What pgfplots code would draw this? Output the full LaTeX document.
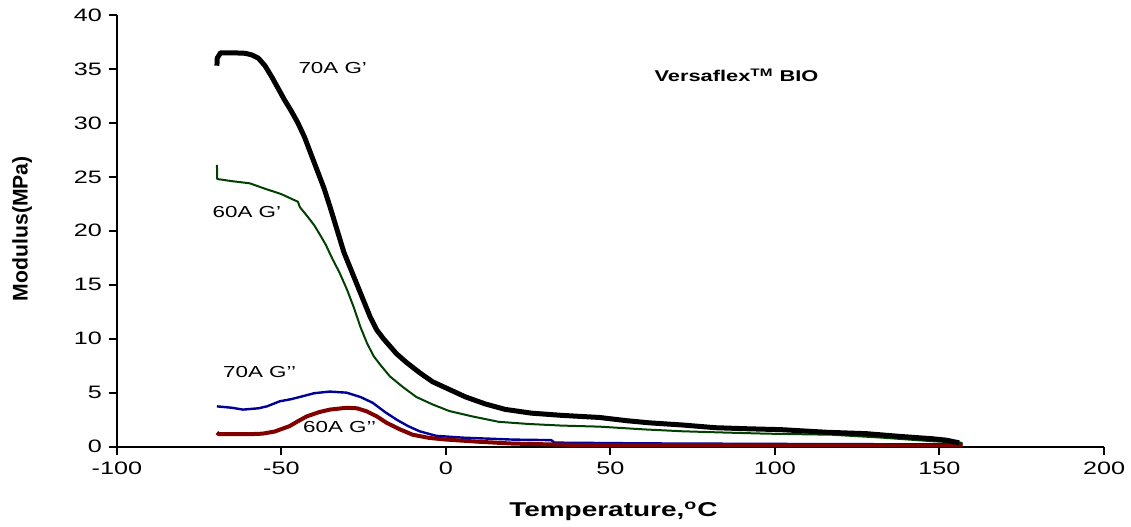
\documentclass[border=0pt]{standalone}
\usepackage{fontspec}
\setmainfont{Liberation Sans}[FakeStretch=1.4]
\newfontfamily\ylabfont{Liberation Sans}
\usepackage{pgfplots}
\pgfplotsset{compat=1.18}
\definecolor{cBlack}{RGB}{0,0,0}
\definecolor{cGreen}{RGB}{0,64,0}
\definecolor{cBlue}{RGB}{0,0,150}
\definecolor{cRed}{RGB}{128,0,0}
\begin{document}
\begin{tikzpicture}
\begin{axis}[
  at={(0,0)}, anchor=south west,
  scale only axis, width=494pt, height=216pt,
  xmin=-100, xmax=200, ymin=0, ymax=40,
  xtick={-100,-50,...,200}, ytick={0,5,...,40},
  axis lines*=left,
  axis line style={line width=1pt},
  tick align=outside, major tick length=4pt,
  tick style={line width=1pt, black},
  /pgf/number format/assume math mode=true,
  ticklabel style={font=\fontsize{9}{10.8}\selectfont},
  xlabel={\fontsize{10}{12}\selectfont\bfseries Temperature,\textsuperscript{o}C},
  xlabel style={at={(axis description cs:0.503,-0.15)}, anchor=center},
  ylabel={\ylabfont\fontsize{10.6}{12}\selectfont\bfseries Modulus(MPa)},
  ylabel style={at={(axis description cs:-0.096,0.505)}, anchor=center, rotate=0},
  line join=round,
]
\addplot[cGreen, line width=1pt] coordinates {
(-69.6,26.1) (-69.5,24.8) (-65,24.6) (-59.6,24.4) (-55,23.9) (-50,23.4) (-46.5,22.9) (-45,22.7) (-44.4,22.2) (-42,21.3) (-40,20.5) (-38.4,19.7) (-36.5,18.7) (-34.5,17.4) (-32.3,16.1) (-30,14.5) (-28,12.9) (-26,11.1) (-24,9.6) (-22,8.4) (-20,7.6) (-17,6.5) (-13,5.5) (-9,4.6) (-4,3.9) (1,3.3) (8,2.8) (16,2.3) (25,2.1) (35,1.95) (46.7,1.85) (60,1.6) (71.9,1.42) (85,1.3) (97.4,1.2) (117.4,1.1) (132.6,0.83) (147.8,0.5) (157,0.35)
};
\addplot[cBlue, line width=1.2pt] coordinates {
(-69.6,3.73) (-65,3.6) (-61.7,3.43) (-57,3.55) (-54.4,3.73) (-50.5,4.2) (-47,4.4) (-44.4,4.6) (-40,4.95) (-35.3,5.1) (-30.2,5.0) (-26,4.6) (-22.3,4.07) (-18.5,3.2) (-15,2.5) (-11.5,1.9) (-8,1.42) (-3,1.0) (5.1,0.83) (20.3,0.65) (32,0.6) (33,0.37) (60,0.3) (100,0.25) (157,0.2)
};
\addplot[cRed, line width=2pt] coordinates {
(-69.6,1.3) (-69,1.15) (-60,1.15) (-55.7,1.2) (-52,1.4) (-50.5,1.57) (-47.5,1.9) (-45,2.35) (-42.3,2.8) (-38.5,3.2) (-35.3,3.43) (-30.2,3.6) (-27,3.55) (-24.1,3.27) (-21,2.8) (-18,2.2) (-14,1.6) (-10.1,1.1) (-5,0.8) (0.2,0.65) (10,0.45) (20.3,0.28) (40,0.15) (100,0.12) (140,0.1) (157,0.1)
};
\addplot[cBlack, line width=2.5pt] coordinates {
(-69.6,35.3) (-69.5,36.0) (-68.5,36.5) (-65,36.5) (-61,36.45) (-59,36.3) (-57,36.0) (-55,35.3) (-53,34.3) (-51,33.2) (-49,32.1) (-47,31.1) (-45,30.0) (-43,28.7) (-41,27.1) (-39,25.5) (-37,23.9) (-35,22.0) (-33,20.0) (-31,18.0) (-29,16.5) (-27,15.0) (-25,13.5) (-23,12.0) (-21,10.8) (-19,10.0) (-17,9.3) (-15,8.6) (-12,7.8) (-8,6.85) (-4,6.0) (1,5.3) (6,4.6) (12,3.95) (18,3.45) (26,3.1) (35,2.9) (46.7,2.7) (55,2.4) (62,2.2) (72,2.0) (82,1.75) (92,1.65) (102,1.57) (115.6,1.33) (127.8,1.2) (137.8,0.95) (147.8,0.73) (152,0.6) (156,0.35)
};
\node[font=\fontsize{8}{9.6}\selectfont] at (axis cs:-34.4,35.1) {70A G’};
\node[font=\fontsize{8}{9.6}\selectfont] at (axis cs:-60.5,21.7) {60A G’};
\node[font=\fontsize{8}{9.6}\selectfont] at (axis cs:-56.6,6.9) {70A G’’};
\node[font=\fontsize{8}{9.6}\selectfont] at (axis cs:-32.3,1.85) {60A G’’};
\node[font=\fontsize{7.8}{9.4}\selectfont\bfseries] at (axis cs:88.3,34.4) {Versaflex\textsuperscript{TM} BIO};
\end{axis}
\pgfresetboundingbox
\path (-58.5pt,-40pt) rectangle (507.5pt,223.5pt);
\end{tikzpicture}
\end{document}
